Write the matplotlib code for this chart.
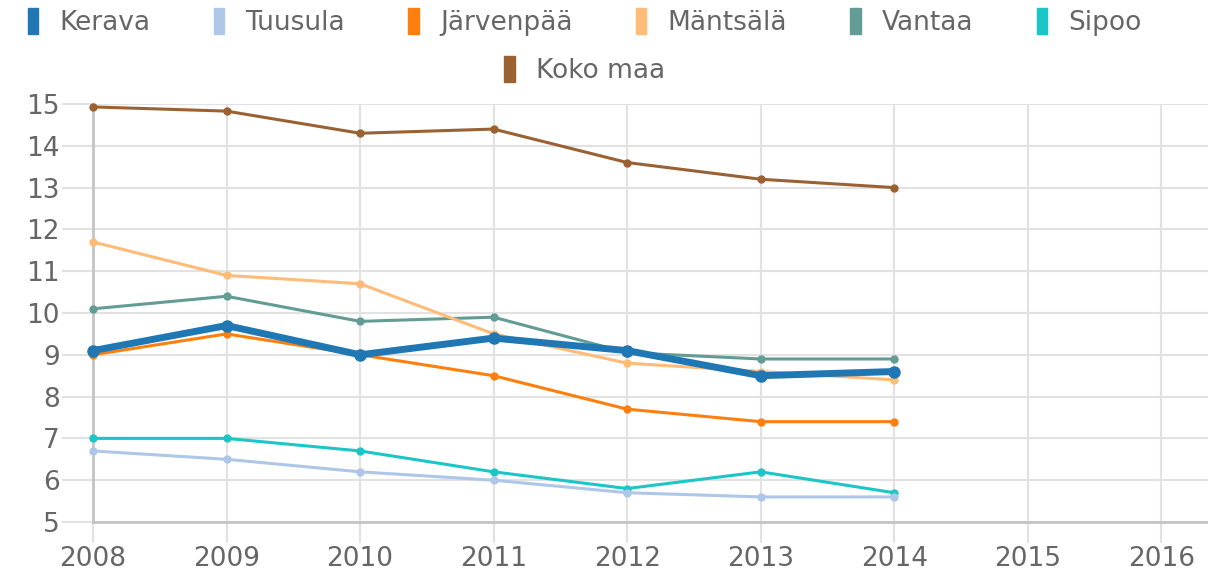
import matplotlib.pyplot as plt
from matplotlib.patches import Patch

years = [2008, 2009, 2010, 2011, 2012, 2013, 2014]

kerava = [9.1, 9.7, 9.0, 9.4, 9.1, 8.5, 8.6]
tuusula = [6.7, 6.5, 6.2, 6.0, 5.7, 5.6, 5.6]
jarvenpaa = [9.0, 9.5, 9.0, 8.5, 7.7, 7.4, 7.4]
mantsala = [11.7, 10.9, 10.7, 9.5, 8.8, 8.6, 8.4]
vantaa = [10.1, 10.4, 9.8, 9.9, 9.05, 8.9, 8.9]
sipoo = [7.0, 7.0, 6.7, 6.2, 5.8, 6.2, 5.7]
koko_maa = [14.93, 14.83, 14.3, 14.4, 13.6, 13.2, 13.0]

names = ["Kerava", "Tuusula", "Järvenpää", "Mäntsälä", "Vantaa", "Sipoo", "Koko maa"]
series = [kerava, tuusula, jarvenpaa, mantsala, vantaa, sipoo, koko_maa]
colors = ["#1f77b4", "#aec7e8", "#ff7f0e", "#ffbb78", "#629c94", "#1cc6c6", "#9a6233"]

x_ticks = list(range(2008, 2017))
y_ticks = list(range(5, 16))

plt.rcParams['font.family'] = ['DejaVu Sans']
txt_col = "#666666"
grid_col = "#e2e2e2"

fig = plt.figure(figsize=(12.08, 5.74), dpi=100)
ax = fig.add_axes([93 / 1208, 1 - 522 / 574, 1 - 93 / 1208, (522 - 104) / 574])

for i, (name, vals, col) in enumerate(zip(names, series, colors)):
    if name == "Kerava":
        lw, ms = 5, 8
    else:
        lw, ms = 2.2, 5
    ax.plot(years, vals, color=col, lw=lw, marker="o", ms=ms,
            zorder=10 - i, clip_on=False)

ax.set_xlim(2008, 2016.35)
ax.set_ylim(5, 15)
ax.set_xticks(x_ticks)
ax.set_yticks(y_ticks)
ax.grid(True, color=grid_col, lw=1.5)
ax.set_axisbelow(True)

for s in ["top", "right"]:
    ax.spines[s].set_visible(False)
for s in ["left", "bottom"]:
    ax.spines[s].set_color("#c4c4c4")
    ax.spines[s].set_linewidth(2)

ax.tick_params(axis="y", length=22, width=1.5, color=grid_col, pad=2,
               labelsize=19, labelcolor=txt_col)
ax.tick_params(axis="x", length=15, width=1.5, color=grid_col, pad=2,
               labelsize=19, labelcolor=txt_col)

handles = [Patch(facecolor=c, edgecolor=c) for c in colors]
leg_kw = dict(frameon=False, fontsize=19, handlelength=0.4, handleheight=1.1,
              handletextpad=0.8, labelcolor=txt_col, borderaxespad=0, borderpad=0)
fig.legend(handles[:6], names[:6], loc="center", ncol=6, columnspacing=2.4,
           bbox_to_anchor=(0.484, 1 - 22 / 574), **leg_kw)
fig.legend(handles[6:], names[6:], loc="center", ncol=1,
           bbox_to_anchor=(0.484, 1 - 70 / 574), **leg_kw)

fig.savefig("out.png", dpi=100)
